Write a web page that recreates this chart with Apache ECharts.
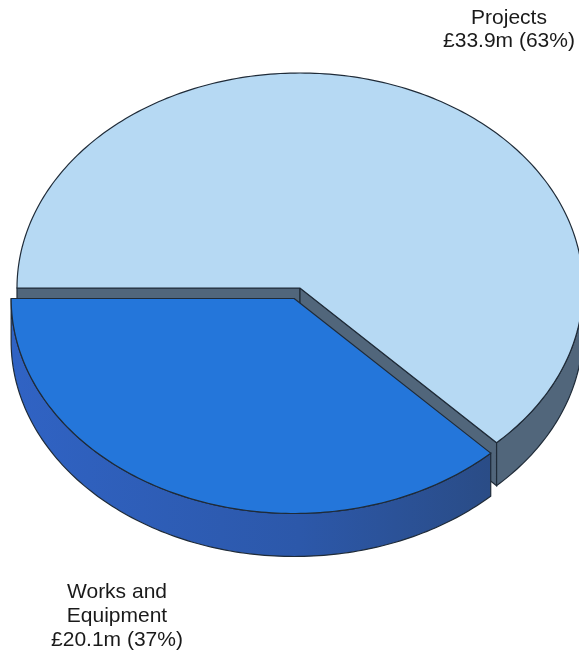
<!DOCTYPE html>
<html>
<head>
<meta charset="utf-8">
<script src="https://cdn.jsdelivr.net/npm/echarts@6/dist/echarts.min.js"></script>
<style>
html,body{margin:0;padding:0;background:#fff;}
#chart{width:579px;height:655px;}
</style>
</head>
<body>
<div id="chart"></div>
<script>
// ---- data ----
const categories = ['Projects', 'Works and\nEquipment'];
const values = [33.9, 20.1];
const currency = '£';
const unit = 'm';

// ---- styling / geometry ----
const topColors = ['#b6d9f3', '#2476da'];
const wallColors = ['#51667b', '#2c5cb8'];
const edgeColor = '#1f2b38';
const cx = 300, cy = 288, rx = 283, ry = 215, depth = 43;
const explode = [0, 15];

const total = values.reduce((a, b) => a + b, 0);
const pct = values.map(v => Math.round(v / total * 100));

function rad(d) { return d * Math.PI / 180; }

function renderItem(params, api) {
  const i = params.dataIndex;
  const v = api.value(0);
  let before = 0;
  for (let k = 0; k < i; k++) before += values[k];
  const a0 = 180 - 360 * before / total;
  const a1 = a0 - 360 * v / total;
  const mid = (a0 + a1) / 2;
  const ox = explode[i] * Math.cos(rad(mid));
  const oy = -explode[i] * Math.sin(rad(mid)) * ry / rx;
  const P = (t, dz) => [cx + ox + rx * Math.cos(rad(t)), cy + oy - ry * Math.sin(rad(t)) + (dz || 0)];
  const arc = (from, to, dz) => {
    const pts = [];
    const n = Math.max(2, Math.ceil(Math.abs(to - from)));
    for (let s = 0; s <= n; s++) pts.push(P(from + (to - from) * s / n, dz));
    return pts;
  };
  const apex = [cx + ox, cy + oy];
  const apexD = [cx + ox, cy + oy + depth];
  const children = [];
  const style = (fill) => ({ fill: fill, stroke: edgeColor, lineWidth: 1.2 });

  // radial faces (only those facing the viewer)
  if (Math.cos(rad(a0)) < 0) {
    const e = P(a0), eD = P(a0, depth);
    children.push({ type: 'polygon', shape: { points: [apex, e, eD, apexD] }, style: style(wallColors[i]) });
  }
  if (Math.cos(rad(a1)) > 0) {
    const e = P(a1), eD = P(a1, depth);
    children.push({ type: 'polygon', shape: { points: [apex, e, eD, apexD] }, style: style(wallColors[i]) });
  }
  // outer wall, front part only (angles between -180 and 0)
  const hi = Math.min(a0, 0), lo = Math.max(a1, -180);
  if (hi > lo) {
    const topArc = arc(lo, hi, 0);
    const botArc = arc(hi, lo, depth);
    const fill = i === 1 ? {
      type: 'linear', x: 0, y: 0, x2: 1, y2: 0,
      colorStops: [{ offset: 0, color: '#3063c4' }, { offset: 0.6, color: '#2c58aa' }, { offset: 1, color: '#2a4c86' }]
    } : wallColors[i];
    children.push({ type: 'polygon', shape: { points: topArc.concat(botArc) }, style: style(fill) });
  }
  // top face
  children.push({ type: 'polygon', shape: { points: [apex].concat(arc(a0, a1, 0)) }, style: style(topColors[i]) });

  return { type: 'group', children: children };
}

const labelText = (k) => categories[k] + '\n' + currency + values[k].toFixed(1) + unit + ' (' + pct[k] + '%)';

const chart = echarts.init(document.getElementById('chart'), null, { renderer: 'canvas' });
chart.setOption({
  backgroundColor: '#ffffff',
  animation: false,
  series: [{
    type: 'custom',
    coordinateSystem: 'none',
    renderItem: renderItem,
    data: values.map((v, k) => ({ name: categories[k], value: [v] }))
  }],
  graphic: [
    {
      type: 'text', x: 509, y: 7,
      style: { text: labelText(0), fill: '#1a1a1a', font: '21px "Liberation Sans", Arial, sans-serif', align: 'center', verticalAlign: 'top', lineHeight: 23 }
    },
    {
      type: 'text', x: 117, y: 580,
      style: { text: labelText(1), fill: '#1a1a1a', font: '21px "Liberation Sans", Arial, sans-serif', align: 'center', verticalAlign: 'top', lineHeight: 24 }
    }
  ]
});
</script>
</body>
</html>
